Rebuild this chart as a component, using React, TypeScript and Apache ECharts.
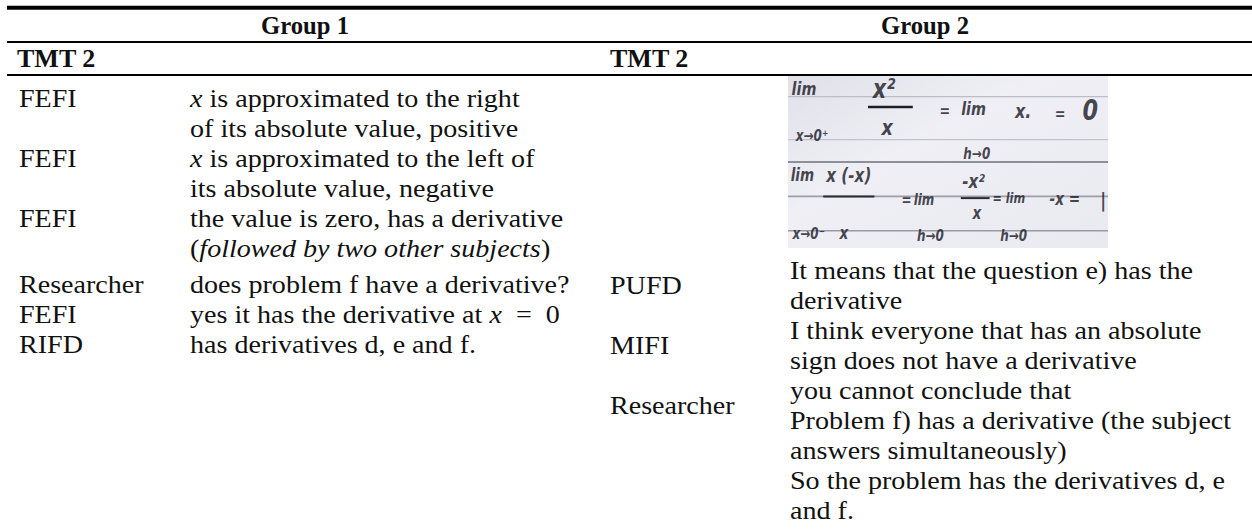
import React, { useEffect, useRef } from "react";
import * as echarts from "echarts";

// ---------- content ----------
const groupTitles = ["Group 1", "Group 2"];
const sectionHeaders = ["TMT 2", "TMT 2"];

const group1Speakers = ["FEFI", "FEFI", "FEFI", "Researcher", "FEFI", "RIFD"];
const group1Utterances: string[][] = [
  ["{i|x} is approximated to the right", "of its absolute value, positive"],
  ["{i|x} is approximated to the left of", "its absolute value, negative"],
  ["the value is zero, has a derivative", "({i|followed by two other subjects})"],
  ["does problem f have a derivative?"],
  ["yes it has the derivative at {i|x}  =  0"],
  ["has derivatives d, e and f."],
];

const group2Speakers = ["PUFD", "MIFI", "Researcher"];
const group2Utterances: string[][] = [
  ["It means that the question e) has the", "derivative"],
  ["I think everyone that has an absolute", "sign does not have a derivative"],
  [
    "you cannot conclude that",
    "Problem f) has a derivative (the subject",
    "answers simultaneously)",
    "So the problem has the derivatives d, e",
    "and f.",
  ],
];

// handwritten working shown as a scanned picture
const handwritingTokens = [
  "lim", "x²", "x", "=", "lim", "x.", "=", "0", "x→0⁺", "h→0",
  "lim", "x (-x)", "x", "=", "lim", "-x²", "x", "= lim", "-x =", "|", "x→0⁻", "h→0", "h→0",
];

// ---------- layout (not data) ----------
const FONT = "'Liberation Serif', 'Times New Roman', serif";
const HAND = "'DejaVu Sans', sans-serif";
const FS = 26;
const LH = 30;
const SX = 1.08;

const handLayout: [number, number, number][] = [
  [0.05, 0.075, 18], [0.30, 0.075, 26], [0.31, 0.30, 22], [0.49, 0.2, 16], [0.58, 0.19, 18],
  [0.735, 0.2, 20], [0.85, 0.22, 16], [0.945, 0.2, 28], [0.075, 0.345, 15], [0.59, 0.45, 15],
  [0.045, 0.58, 17], [0.19, 0.58, 19], [0.175, 0.915, 17], [0.37, 0.72, 15], [0.425, 0.72, 15],
  [0.58, 0.615, 19], [0.59, 0.80, 17], [0.69, 0.71, 14], [0.865, 0.72, 17], [0.985, 0.72, 20],
  [0.065, 0.915, 15], [0.445, 0.93, 15], [0.705, 0.93, 15],
];

function text(x: number, y: number, s: string, extra: any = {}) {
  const fontSize = extra.fontSize ?? FS;
  const fontWeight = extra.fontWeight ?? "normal";
  const align = extra.align ?? "left";
  return {
    type: "text",
    x,
    y,
    scaleX: extra.scaleX ?? SX,
    silent: true,
    style: {
      text: s,
      fill: extra.fill ?? "#111",
      fontFamily: extra.fontFamily ?? FONT,
      fontSize,
      fontWeight,
      fontStyle: extra.fontStyle ?? "normal",
      align,
      textAlign: align,
      verticalAlign: "middle",
      textVerticalAlign: "middle",
      opacity: extra.opacity ?? 1,
      rich: {
        i: { fontFamily: FONT, fontSize, fontStyle: "italic", fill: "#111" },
      },
    },
  };
}

function hline(x1: number, x2: number, y: number, w: number, color = "#000") {
  return {
    type: "line",
    silent: true,
    shape: { x1, y1: y, x2, y2: y },
    style: { stroke: color, lineWidth: w },
  };
}

export default function App() {
  const ref = useRef<HTMLDivElement>(null);

  useEffect(() => {
    if (!ref.current) return;
    const chart = echarts.init(ref.current, null, { renderer: "svg" });
    const els: any[] = [];

    // rules
    els.push(hline(7, 1252, 7.8, 4));
    els.push(hline(7, 1252, 42, 2));
    els.push(hline(7, 1252, 75, 2));

    // group headers
    els.push(text(305, 25, groupTitles[0], { fontWeight: "bold", align: "center", scaleX: 0.95 }));
    els.push(text(925, 25, groupTitles[1], { fontWeight: "bold", align: "center", scaleX: 0.95 }));
    els.push(text(17, 58.5, sectionHeaders[0], { fontWeight: "bold", scaleX: 1.0 }));
    els.push(text(610, 58.5, sectionHeaders[1], { fontWeight: "bold", scaleX: 1.0 }));

    // group 1
    const g1Label = 19;
    const g1Text = 190;
    const g1Starts = [98, 158, 218, 284, 314, 344];
    group1Speakers.forEach((sp, i) => {
      els.push(text(g1Label, g1Starts[i], sp));
      group1Utterances[i].forEach((ln, j) => {
        els.push(text(g1Text, g1Starts[i] + j * LH, ln));
      });
    });

    // group 2 picture
    const ix = 788, iy = 76, iw = 320, ih = 172;
    els.push({
      type: "rect",
      silent: true,
      shape: { x: ix, y: iy, width: iw, height: ih },
      style: {
        fill: new echarts.graphic.LinearGradient(0, 0, 1, 1, [
          { offset: 0, color: "#e0e0e9" },
          { offset: 0.4, color: "#efeff5" },
          { offset: 1, color: "#e9e9f0" },
        ]),
      },
    });
    const nb: [number, string, number][] = [
      [0.12, "#bdbdc9", 1.2], [0.37, "#c2c2cd", 1.2], [0.5, "#8f8f9c", 2], [0.7, "#9d9da9", 1.6], [0.9, "#9a9aa6", 1.6],
    ];
    nb.forEach(([fy, c, w]) => els.push(hline(ix, ix + iw, iy + fy * ih, w, c)));
    // fraction bars
    els.push(hline(ix + 0.25 * iw, ix + 0.39 * iw, iy + 0.18 * ih, 2.6, "#1d1d26"));
    els.push(hline(ix + 0.11 * iw, ix + 0.27 * iw, iy + 0.70 * ih, 2, "#2a2a33"));
    els.push(hline(ix + 0.54 * iw, ix + 0.63 * iw, iy + 0.71 * ih, 2, "#2a2a33"));
    handwritingTokens.forEach((t, k) => {
      const [fx, fy, sz] = handLayout[k];
      els.push(
        text(ix + fx * iw, iy + fy * ih, t, {
          fontFamily: HAND,
          fontSize: sz,
          fontStyle: "italic",
          fontWeight: "bold",
          align: "center",
          fill: "#262631",
          opacity: 0.85,
          scaleX: 0.8,
        })
      );
    });

    // group 2 transcript
    const g2Label = 610;
    const g2Text = 790;
    const firstLine = 270;
    let line = 0;
    group2Speakers.forEach((sp, i) => {
      const lines = group2Utterances[i];
      const labelY = firstLine + (line + 0.5) * LH;
      els.push(text(g2Label, labelY, sp));
      lines.forEach((ln) => {
        els.push(text(g2Text, firstLine + line * LH, ln));
        line += 1;
      });
    });

    chart.setOption({
      animation: false,
      backgroundColor: "#ffffff",
      graphic: { elements: els },
    });
    return () => chart.dispose();
  }, []);

  return (
    <div
      ref={ref}
      style={{ position: "absolute", left: 0, top: 0, width: 1252, height: 531, background: "#fff" }}
    />
  );
}
